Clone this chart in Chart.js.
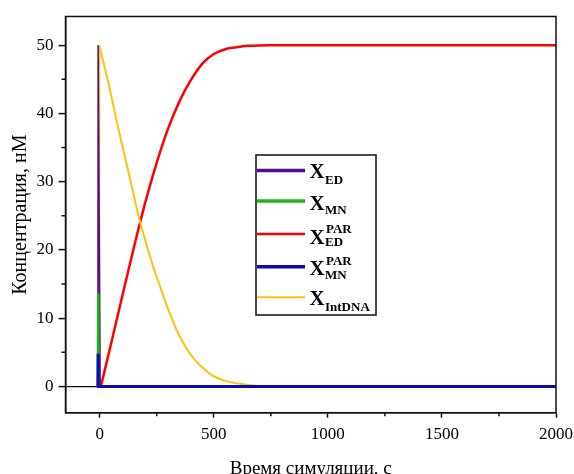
<!DOCTYPE html>
<html>
<head>
<meta charset="utf-8">
<script src="https://cdn.jsdelivr.net/npm/chart.js@4"></script>
<style>
html,body{margin:0;padding:0;background:#fff;overflow:hidden}
canvas{display:block}
</style>
</head>
<body>
<canvas id="c" width="574" height="474"></canvas>
<script>
// ---- data ----
const tED = [-8, -7, 2, 2000];
const vED = [0, 50, 0, 0];
const tMN = [-8, -7, -6, 2000];
const vMN = [0, 13.6, 0, 0];
const tMNPAR = [-8, -7, -6, 2000];
const vMNPAR = [0, 4.8, 0, 0];
const tEDPAR = [5, 50, 100, 150, 200, 250, 300, 350, 400, 450, 500, 550, 600, 650, 750, 850, 2000];
const vEDPAR = [0, 6.3, 13.4, 20.4, 27.0, 32.8, 37.8, 41.8, 44.9, 47.3, 48.7, 49.4, 49.7, 49.9, 50, 50, 50];
const tIntRise = [-3, -2];
const vIntRise = [0, 50];
const tInt = [-2, 40, 80, 120, 154, 175, 212, 240, 270, 307, 344, 380, 417, 453, 490, 563, 636, 709, 800, 2000];
const vInt = [50, 44.2, 38.0, 32.3, 27.3, 24.4, 20.0, 17.0, 14.1, 10.7, 7.8, 5.6, 3.9, 2.7, 1.7, 0.7, 0.3, 0.05, 0, 0];

const xTicks = [0, 500, 1000, 1500, 2000];
const xMinor = [250, 750, 1250, 1750];
const yTicks = [0, 10, 20, 30, 40, 50];
const yMinor = [5, 15, 25, 35, 45];

const legendSub = ['ED', 'MN', 'ED', 'MN', 'IntDNA'];
const legendSup = ['', '', 'PAR', 'PAR', ''];
const xTitle = 'Время симуляции, с';
const yTitle = 'Концентрация, нМ';

const pts = (ts, vs) => ts.map((t, i) => ({x: t, y: vs[i]}));

const COL = {
  ed: '#4B0F8F', mn: '#1DB41D', edpar: '#FF0000', mnpar: '#0C0CB2', int: '#FFC20E'
};

const datasets = [
  {label: 'X_MN^PAR', data: pts(tMNPAR, vMNPAR), borderColor: COL.mnpar, borderWidth: 3, order: 0, tension: 0},
  {label: 'X_MN', data: pts(tMN, vMN), borderColor: COL.mn, borderWidth: 2.5, order: 1, tension: 0},
  {label: 'X_ED', data: pts(tED, vED), borderColor: COL.ed, borderWidth: 1.5, order: 2, tension: 0},
  {label: 'X_IntDNA', data: pts(tInt, vInt), borderColor: COL.int, borderWidth: 2, order: 3, cubicInterpolationMode: 'monotone'},
  {label: 'X_IntDNA rise', data: pts(tIntRise, vIntRise), borderColor: COL.int, borderWidth: 2, order: 3, tension: 0},
  {label: 'X_ED^PAR', data: pts(tEDPAR, vEDPAR), borderColor: COL.edpar, borderWidth: 2.5, order: 4, cubicInterpolationMode: 'monotone'}
];
// legend order -> dataset index
const legendMap = [2, 1, 5, 0, 3];
const legendWidths = [3.5, 3.5, 2.5, 3.5, 2];

const serif = '"Liberation Serif", "Times New Roman", serif';

const frame = {
  id: 'frame',
  afterDraw(chart) {
    const {ctx, scales: {x, y}, chartArea: a} = chart;
    ctx.save();
    ctx.strokeStyle = '#111';
    ctx.lineWidth = 1.5;
    ctx.beginPath();
    xMinor.forEach(v => {
      const p = x.getPixelForValue(v);
      ctx.moveTo(p, a.bottom); ctx.lineTo(p, a.bottom + 3.5);
    });
    yMinor.forEach(v => {
      const p = y.getPixelForValue(v);
      ctx.moveTo(a.left, p); ctx.lineTo(a.left - 4, p);
    });
    ctx.stroke();
    ctx.strokeRect(a.left, a.top, a.right - a.left, a.bottom - a.top);
    ctx.restore();
  }
};

const legendPlugin = {
  id: 'customLegend',
  afterDraw(chart) {
    const ctx = chart.ctx;
    const box = {x: 256, y: 155, w: 120, h: 160};
    const lineY = [170.5, 201, 234, 266.7, 297.3];
    const xBase = [178, 209.5, 243.5, 274.5, 304.5];
    const subBase = [183.5, 213.5, 245.5, 278.5, 311];
    const supBase = [0, 0, 232.5, 264.5, 0];
    ctx.save();
    ctx.fillStyle = '#fff';
    ctx.fillRect(box.x, box.y, box.w, box.h);
    ctx.strokeStyle = '#111';
    ctx.lineWidth = 1.5;
    ctx.strokeRect(box.x, box.y, box.w, box.h);
    legendMap.forEach((di, i) => {
      const ds = chart.data.datasets[di];
      ctx.strokeStyle = ds.borderColor;
      ctx.lineWidth = legendWidths[i];
      ctx.beginPath();
      ctx.moveTo(257, lineY[i]);
      ctx.lineTo(305, lineY[i]);
      ctx.stroke();
      ctx.fillStyle = '#000';
      ctx.textBaseline = 'alphabetic';
      ctx.textAlign = 'left';
      ctx.font = 'bold 21px ' + serif;
      ctx.fillText('X', 309.5, xBase[i]);
      ctx.font = 'bold 13px ' + serif;
      ctx.fillText(legendSub[i], 325, subBase[i]);
      if (legendSup[i]) ctx.fillText(legendSup[i], 326, supBase[i]);
    });
    ctx.restore();
  }
};

new Chart(document.getElementById('c'), {
  type: 'line',
  data: {datasets},
  options: {
    responsive: false,
    devicePixelRatio: 1,
    animation: false,
    layout: {padding: {left: 0, top: 16.5, right: 18, bottom: 0}},
    elements: {point: {radius: 0}, line: {fill: false}},
    plugins: {legend: {display: false}, tooltip: {enabled: false}},
    scales: {
      x: {
        type: 'linear',
        min: -150, max: 2000,
        afterBuildTicks: s => { s.ticks = xTicks.map(v => ({value: v})); },
        afterFit: s => { s.height = 61.3; s.paddingLeft = 0; s.paddingRight = 0; },
        ticks: {
          includeBounds: false, maxRotation: 0, autoSkip: false,
          color: '#000', padding: 7,
          font: {family: serif, size: 17},
          callback: v => String(v)
        },
        grid: {drawOnChartArea: false, drawTicks: true, tickLength: 5, tickColor: '#111', tickWidth: 1.5},
        border: {display: true, color: '#111', width: 1.5},
        title: {
          display: true, text: xTitle, color: '#000',
          font: {family: serif, size: 19, lineHeight: 1.2},
          padding: {top: 0, bottom: -6}
        }
      },
      y: {
        type: 'linear',
        min: -3.85, max: 54.2,
        afterBuildTicks: s => { s.ticks = yTicks.map(v => ({value: v})); },
        afterFit: s => { s.width = 65.5; s.paddingTop = 0; s.paddingBottom = 0; },
        ticks: {
          includeBounds: false, color: '#000', padding: 5,
          font: {family: serif, size: 17},
          callback: v => String(v)
        },
        grid: {
          drawOnChartArea: true, drawTicks: true, tickLength: 7,
          color: c => (c.tick && c.tick.value === 0) ? '#000' : 'rgba(0,0,0,0)',
          lineWidth: 1.2,
          tickColor: '#111', tickWidth: 1.5
        },
        border: {display: true, color: '#111', width: 1.5},
        title: {
          display: true, text: yTitle, color: '#000',
          font: {family: serif, size: 20, lineHeight: 1.2},
          padding: {top: 8.5, bottom: 0}
        }
      }
    }
  },
  plugins: [frame, legendPlugin]
});
</script>
</body>
</html>
